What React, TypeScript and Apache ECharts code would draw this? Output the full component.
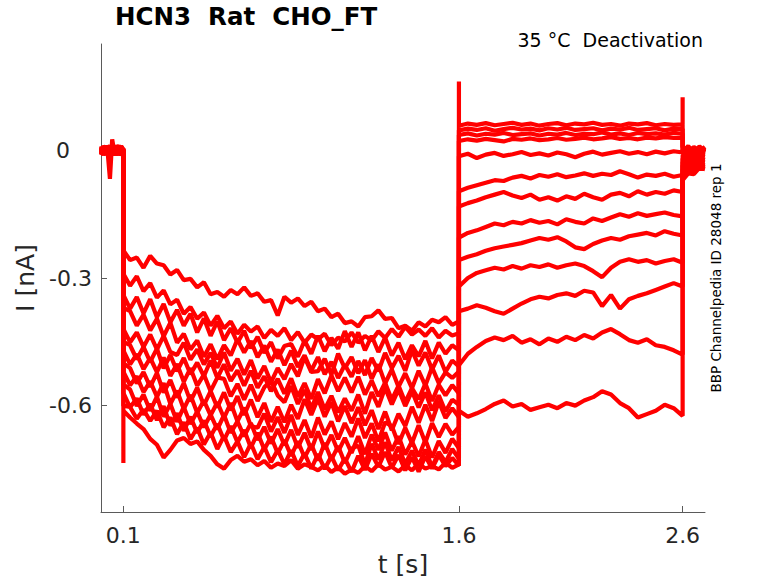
import React, { useEffect, useRef } from "react";
import * as echarts from "echarts";

// time grids [s]
const PRE_T = [0, 0.01, 0.02, 0.03, 0.04, 0.05, 0.06, 0.07, 0.08, 0.09, 0.1];
const ACT_T = [
  0.1, 0.13, 0.16, 0.19, 0.22, 0.25, 0.28, 0.31, 0.34, 0.37, 0.4, 0.43, 0.46, 0.49, 0.52, 0.55, 0.58,
  0.61, 0.64, 0.67, 0.7, 0.73, 0.76, 0.79, 0.82, 0.85, 0.88, 0.91, 0.94, 0.97, 1.0, 1.03, 1.06, 1.09,
  1.12, 1.15, 1.18, 1.21, 1.24, 1.27, 1.3, 1.33, 1.36, 1.39, 1.42, 1.45, 1.48, 1.51, 1.54, 1.57, 1.6,
];
const TAIL_T = [
  1.6, 1.64, 1.68, 1.72, 1.76, 1.8, 1.84, 1.88, 1.92, 1.96, 2.0, 2.04, 2.08, 2.12, 2.16, 2.2, 2.24,
  2.28, 2.32, 2.36, 2.4, 2.44, 2.48, 2.52, 2.56, 2.6,
];
const POST_T = [2.6, 2.625, 2.65, 2.675, 2.7];

// currents in pA, one row per sweep
const PRE = [
  [4, -8, 10, -6, 9, -10, 6, -3, 8, -5, 2],
  [-9, 6, -4, 11, -7, 5, -11, 8, -2, 10, -3],
  [7, -3, -10, 8, -5, 12, -8, 3, -11, 6, 4],
  [-5, 10, 3, -9, 11, -6, 9, -12, 5, -7, -2],
  [10, -6, 8, -12, 4, -7, 10, -4, 12, -9, 5],
  [-11, 4, -8, 6, -10, 9, -4, 11, -6, 3, -6],
  [3, -11, 7, -4, 12, -9, 5, -8, 7, -12, 1],
  [-7, 9, -5, 10, -3, 7, -12, 4, -9, 8, -4],
  [8, -4, 11, -8, 6, -11, 7, -5, 10, -3, 3],
  [-4, 7, -9, 4, -8, 10, -6, 12, -3, 9, -1],
  [6, -10, 5, -7, 9, -5, 11, -9, 4, -11, 2],
  [-10, 5, -6, 9, -11, 4, -7, 6, -10, 5, -5],
  [5, -9, 7, -6, -67, 26, -5, 8, -6, 10, 0],
];

const ACT = [
  [-235, -258, -252, -276, -248, -266, -270, -292, -281, -305, -302, -322, -310, -338, -333, -344, -328, -338, -322, -342, -336, -356, -352, -388, -344, -358, -348, -366, -356, -378, -372, -392, -384, -406, -402, -414, -392, -390, -376, -396, -394, -418, -412, -424, -404, -414, -398, -404, -392, -410, -402],
  [-290, -318, -296, -331, -312, -346, -329, -362, -351, -384, -368, -396, -381, -412, -389, -418, -402, -431, -410, -426, -414, -441, -422, -436, -418, -446, -427, -452, -433, -444, -431, -458, -440, -449, -428, -452, -436, -447, -425, -441, -420, -438, -415, -433, -421, -436, -418, -440, -424, -435, -430],
  [-340, -372, -345, -383, -350, -392, -361, -404, -375, -412, -384, -428, -395, -436, -402, -446, -418, -452, -424, -465, -438, -476, -451, -489, -460, -455, -485, -447, -478, -436, -472, -441, -466, -425, -462, -428, -470, -436, -474, -440, -482, -452, -491, -458, -484, -448, -489, -452, -478, -458, -470],
  [-370, -378, -412, -386, -423, -396, -437, -405, -452, -431, -468, -447, -485, -456, -491, -458, -482, -444, -475, -448, -486, -459, -497, -468, -505, -471, -509, -482, -518, -486, -526, -497, -535, -504, -532, -495, -528, -488, -519, -476, -512, -483, -518, -470, -506, -475, -515, -482, -521, -494, -508],
  [-420, -451, -428, -462, -433, -468, -436, -474, -481, -452, -492, -468, -503, -476, -511, -475, -518, -490, -527, -493, -536, -507, -545, -512, -538, -502, -531, -486, -521, -519, -490, -527, -478, -512, -486, -524, -493, -537, -503, -548, -515, -556, -524, -559, -518, -553, -510, -547, -522, -535, -520],
  [-450, -458, -491, -462, -497, -466, -512, -481, -519, -488, -526, -499, -531, -494, -535, -503, -542, -517, -553, -518, -558, -531, -566, -537, -572, -536, -579, -547, -584, -538, -571, -529, -566, -534, -569, -532, -574, -541, -578, -546, -586, -553, -592, -559, -585, -548, -589, -551, -576, -552, -571],
  [-470, -503, -479, -514, -488, -521, -487, -530, -502, -544, -512, -553, -527, -566, -534, -537, -578, -549, -586, -551, -589, -557, -541, -576, -592, -554, -596, -563, -607, -568, -609, -577, -616, -583, -612, -574, -619, -568, -603, -558, -597, -562, -601, -566, -604, -569, -611, -576, -614, -586, -598],
  [-500, -512, -548, -521, -556, -523, -569, -540, -581, -547, -590, -558, -599, -566, -604, -569, -611, -578, -622, -586, -627, -594, -638, -603, -639, -598, -631, -585, -622, -583, -626, -592, -637, -601, -641, -604, -646, -611, -655, -614, -658, -619, -648, -603, -640, -598, -636, -591, -629, -606, -627],
  [-520, -552, -531, -568, -543, -579, -547, -596, -565, -608, -575, -617, -588, -623, -592, -629, -594, -637, -605, -648, -652, -619, -661, -627, -664, -622, -669, -634, -675, -628, -668, -637, -679, -641, -673, -630, -676, -642, -684, -639, -648, -690, -652, -688, -646, -687, -641, -674, -643, -668, -650],
  [-550, -562, -601, -574, -612, -579, -626, -596, -638, -603, -643, -614, -651, -621, -656, -622, -664, -637, -672, -641, -681, -650, -689, -655, -693, -657, -699, -664, -704, -661, -702, -669, -708, -676, -711, -672, -714, -668, -704, -663, -706, -672, -715, -684, -719, -680, -722, -683, -711, -678, -700],
  [-570, -604, -583, -621, -596, -634, -601, -647, -618, -659, -626, -664, -635, -672, -643, -681, -648, -686, -657, -699, -664, -703, -673, -712, -681, -718, -684, -722, -691, -729, -688, -727, -695, -735, -701, -694, -738, -690, -727, -686, -729, -697, -737, -706, -741, -703, -744, -709, -733, -702, -725],
  [-600, -603, -631, -609, -636, -612, -651, -628, -667, -639, -679, -652, -691, -663, -702, -671, -709, -684, -721, -689, -726, -697, -733, -704, -738, -705, -742, -712, -748, -714, -749, -719, -752, -724, -756, -718, -751, -713, -744, -709, -746, -716, -752, -721, -755, -719, -748, -716, -742, -723, -741],
  [-612, -628, -642, -655, -678, -692, -722, -704, -682, -676, -690, -684, -704, -718, -738, -748, -728, -718, -732, -726, -740, -730, -746, -736, -742, -728, -748, -738, -744, -752, -740, -756, -745, -760, -750, -758, -742, -754, -738, -750, -744, -755, -740, -752, -736, -748, -742, -750, -734, -746, -738],
];

const TAIL = [
  [58, 63, 60, 64, 59, 62, 65, 60, 63, 58, 62, 64, 59, 63, 61, 65, 60, 62, 58, 63, 61, 64, 59, 62, 60, 61],
  [47, 51, 48, 52, 46, 50, 53, 49, 51, 47, 52, 49, 53, 48, 50, 52, 47, 51, 49, 53, 48, 50, 52, 47, 51, 50],
  [36, 40, 35, 39, 37, 41, 36, 38, 40, 35, 39, 37, 41, 36, 39, 38, 42, 37, 40, 36, 41, 38, 40, 37, 41, 39],
  [22, 26, 23, 27, 24, 21, 27, 25, 28, 24, 26, 29, 25, 27, 30, 26, 28, 31, 27, 29, 26, 30, 28, 31, 29, 30],
  [-14, -8, -18, -10, -6, -13, -9, -4, -11, -7, -12, -5, -9, -16, -8, -3, -10, -6, -2, -8, -4, -9, -3, -7, -2, -5],
  [-96, -88, -82, -76, -70, -72, -64, -60, -66, -58, -62, -56, -63, -59, -54, -60, -55, -58, -49, -56, -64, -57, -60, -55, -62, -58],
  [-132, -124, -118, -110, -104, -98, -106, -112, -104, -116, -110, -118, -108, -114, -102, -110, -116, -104, -100, -108, -96, -104, -98, -102, -94, -98],
  [-205, -194, -188, -180, -172, -176, -168, -172, -164, -170, -166, -174, -162, -168, -172, -160, -166, -158, -150, -156, -148, -154, -150, -146, -152, -155],
  [-258, -250, -244, -236, -230, -226, -222, -218, -212, -206, -210, -204, -214, -228, -232, -220, -212, -206, -210, -202, -198, -194, -200, -190, -196, -200],
  [-320, -300, -288, -282, -276, -280, -272, -278, -270, -274, -268, -276, -270, -266, -272, -284, -298, -276, -262, -256, -262, -258, -266, -260, -256, -264],
  [-378, -372, -364, -370, -378, -384, -372, -360, -350, -344, -348, -340, -336, -342, -330, -334, -366, -340, -372, -350, -342, -336, -328, -320, -312, -320],
  [-505, -478, -462, -448, -440, -446, -436, -452, -444, -456, -442, -450, -438, -446, -434, -442, -428, -420, -432, -446, -452, -444, -458, -462, -470, -480],
  [-612, -626, -618, -608, -596, -588, -602, -596, -610, -604, -598, -606, -594, -600, -588, -580, -566, -574, -594, -606, -628, -620, -612, -598, -606, -624],
];

const POST = [
  [6, -4, 8, -2, 5],
  [-5, 7, -3, 9, -1],
  [9, -2, 6, -6, 3],
  [-3, 10, -5, 4, -4],
  [2, -8, 5, -3, 8],
  [-12, -4, -10, -2, -6],
  [-20, -11, -16, -6, -10],
  [-28, -18, -24, -12, -15],
  [-36, -26, -30, -19, -22],
  [-46, -34, -38, -26, -28],
  [-56, -42, -46, -33, -35],
  [-62, -48, -50, -37, -40],
  [-70, -54, -56, -41, -44],
];

// capacitive transients at the voltage steps (pA) and the sweep they belong to
const SPIKE_T = [0.1, 1.6, 2.6];
const SPIKE_I = [-735, 162, 125];
const SPIKE_SWEEP = [12, 0, 0];

const X_TICKS = [0.1, 1.6, 2.6];
const Y_TICKS = [-0.6, -0.3, 0];

const FONT = "DejaVu Sans";
const INK = "#262626";
const AXIS = "#5a5a5a";

function sweep(i: number): number[][] {
  const pts: number[][] = [];
  const add = (ts: number[], vs: number[]) => ts.forEach((t, k) => pts.push([t, vs[k] / 1000]));
  const spike = (t: number) =>
    SPIKE_T.forEach((st, k) => {
      if (st === t && SPIKE_SWEEP[k] === i) pts.push([st, SPIKE_I[k] / 1000]);
    });
  add(PRE_T, PRE[i]);
  spike(0.1);
  add(ACT_T, ACT[i]);
  spike(1.6);
  add(TAIL_T, TAIL[i]);
  spike(2.6);
  add(POST_T, POST[i]);
  return pts;
}

const App: React.FC = () => {
  const chartRef = useRef<HTMLDivElement>(null);

  useEffect(() => {
    if (!chartRef.current) return;
    const chart = echarts.init(chartRef.current, undefined, { renderer: "svg" });

    const option = {
      animation: false,
      backgroundColor: "#ffffff",
      grid: { left: 101, right: 73, top: 44, bottom: 71 },
      graphic: [
        {
          type: "text",
          left: 115,
          top: 4,
          style: { text: "HCN3  Rat  CHO_FT", fontSize: 24.5, fontWeight: "bold", fontFamily: FONT, fill: "#000" },
        },
        {
          type: "text",
          right: 75,
          top: 30,
          style: { text: "35 °C  Deactivation", fontSize: 19, fontFamily: FONT, fill: "#000" },
        },
        {
          type: "text",
          x: 716,
          y: 278,
          rotation: Math.PI / 2,
          style: {
            text: "BBP Channelpedia ID 28048 rep 1",
            fontSize: 13.5,
            fontFamily: FONT,
            fill: "#000",
            align: "center",
            verticalAlign: "middle",
          },
        },
      ],
      xAxis: {
        type: "value",
        min: 0,
        max: 2.7,
        name: "t [s]",
        nameLocation: "middle",
        nameGap: 40,
        nameTextStyle: { fontSize: 25, fontFamily: FONT, color: INK },
        axisLine: { show: true, onZero: false, lineStyle: { color: AXIS, width: 1 } },
        axisTick: { show: true, inside: true, length: 6, customValues: X_TICKS, lineStyle: { color: AXIS } },
        axisLabel: {
          customValues: X_TICKS,
          margin: 12,
          fontSize: 22,
          fontFamily: FONT,
          color: INK,
          formatter: (v: number) => v.toFixed(1),
        },
        splitLine: { show: false },
      },
      yAxis: {
        type: "value",
        min: -0.85,
        max: 0.25,
        name: "I [nA]",
        nameLocation: "middle",
        nameGap: 62,
        nameTextStyle: { fontSize: 25, fontFamily: FONT, color: INK },
        axisLine: { show: true, onZero: false, lineStyle: { color: AXIS, width: 1 } },
        axisTick: { show: true, inside: true, length: 6, customValues: Y_TICKS, lineStyle: { color: AXIS } },
        axisLabel: {
          customValues: Y_TICKS,
          margin: 9,
          fontSize: 22,
          fontFamily: FONT,
          color: INK,
          formatter: (v: number) => (v === 0 ? "{z|0}" : String(v)),
          rich: { z: { fontSize: 22, fontFamily: FONT, color: INK, padding: [0, 22, 0, 0] } },
        },
        splitLine: { show: false },
      },
      series: ACT.map((_, i) => ({
        type: "line",
        data: sweep(i),
        showSymbol: false,
        silent: true,
        lineStyle: { color: "#ff0000", width: 4.2, join: "bevel" },
      })),
    };

    chart.setOption(option as any);

    const handleResize = () => chart.resize();
    window.addEventListener("resize", handleResize);
    return () => {
      window.removeEventListener("resize", handleResize);
      chart.dispose();
    };
  }, []);

  return (
    <div
      ref={chartRef}
      style={{ position: "fixed", left: 0, top: 0, width: "778px", height: "583px" }}
    />
  );
};

export default App;
